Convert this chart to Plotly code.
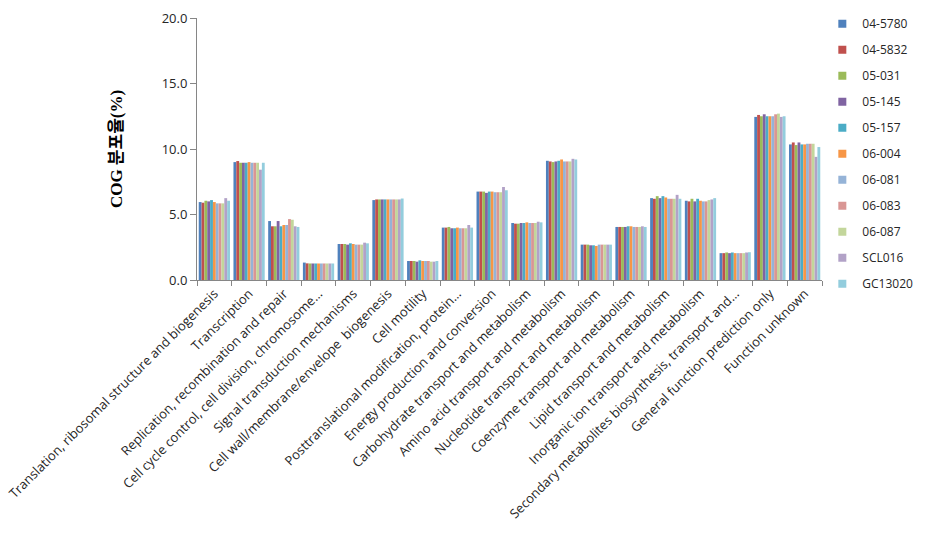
import plotly.graph_objects as go

categories = [
    "Translation, ribosomal structure and biogenesis",
    "Transcription",
    "Replication, recombination and repair",
    "Cell cycle control, cell division, chromosome…",
    "Signal transduction mechanisms",
    "Cell wall/membrane/envelope  biogenesis",
    "Cell motility",
    "Posttranslational modification, protein…",
    "Energy production and conversion",
    "Carbohydrate transport and metabolism",
    "Amino acid transport and metabolism",
    "Nucleotide transport and metabolism",
    "Coenzyme transport and metabolism",
    "Lipid transport and metabolism",
    "Inorganic ion transport and metabolism",
    "Secondary metabolites biosynthesis, transport and…",
    "General function prediction only",
    "Function unknown",
]

strains = ["04-5780", "04-5832", "05-031", "05-145", "05-157", "06-004",
           "06-081", "06-083", "06-087", "SCL016", "GC13020"]

colors = ["#4F81BD", "#C0504D", "#9BBB59", "#8064A2", "#4BACC6", "#F79646",
          "#95B3D7", "#D99694", "#C3D69B", "#B2A2C7", "#93CDDD"]

# values per category (rows) for each strain (columns)
v_translation   = [5.95, 5.90, 6.05, 6.00, 6.10, 5.95, 5.85, 5.85, 5.85, 6.25, 6.05]
v_transcription = [9.00, 9.08, 8.95, 8.95, 8.95, 9.00, 8.95, 8.95, 8.95, 8.42, 8.95]
v_replication   = [4.50, 4.10, 4.10, 4.50, 4.10, 4.20, 4.20, 4.65, 4.60, 4.10, 4.05]
v_cellcycle     = [1.33, 1.27, 1.26, 1.26, 1.26, 1.26, 1.26, 1.26, 1.26, 1.26, 1.26]
v_signal        = [2.75, 2.75, 2.75, 2.70, 2.80, 2.75, 2.70, 2.70, 2.70, 2.85, 2.80]
v_cellwall      = [6.10, 6.15, 6.15, 6.15, 6.15, 6.15, 6.15, 6.15, 6.15, 6.15, 6.22]
v_motility      = [1.45, 1.45, 1.45, 1.40, 1.50, 1.45, 1.45, 1.45, 1.40, 1.40, 1.45]
v_posttrans     = [4.00, 4.00, 4.05, 3.95, 3.95, 4.00, 3.95, 3.95, 3.95, 4.20, 4.00]
v_energy        = [6.75, 6.75, 6.75, 6.65, 6.75, 6.75, 6.70, 6.70, 6.70, 7.10, 6.85]
v_carbo         = [4.35, 4.30, 4.30, 4.35, 4.35, 4.40, 4.35, 4.35, 4.35, 4.45, 4.40]
v_amino         = [9.10, 9.05, 9.00, 9.05, 9.10, 9.20, 9.05, 9.05, 9.05, 9.25, 9.20]
v_nucleotide    = [2.70, 2.70, 2.70, 2.65, 2.65, 2.60, 2.70, 2.70, 2.70, 2.70, 2.70]
v_coenzyme      = [4.05, 4.05, 4.05, 4.05, 4.10, 4.10, 4.05, 4.05, 4.05, 4.10, 4.05]
v_lipid         = [6.25, 6.20, 6.40, 6.25, 6.40, 6.30, 6.20, 6.20, 6.20, 6.50, 6.20]
v_inorganic     = [6.05, 6.00, 6.20, 6.00, 6.20, 6.05, 6.00, 6.00, 6.10, 6.15, 6.25]
v_secondary     = [2.05, 2.05, 2.10, 2.05, 2.10, 2.05, 2.05, 2.05, 2.05, 2.10, 2.12]
v_general       = [12.45, 12.60, 12.50, 12.65, 12.50, 12.50, 12.50, 12.65, 12.70, 12.45, 12.50]
v_unknown       = [10.35, 10.50, 10.30, 10.50, 10.35, 10.35, 10.40, 10.40, 10.40, 9.40, 10.15]

rows = [v_translation, v_transcription, v_replication, v_cellcycle, v_signal,
        v_cellwall, v_motility, v_posttrans, v_energy, v_carbo, v_amino,
        v_nucleotide, v_coenzyme, v_lipid, v_inorganic, v_secondary,
        v_general, v_unknown]

y_ticks = [0, 5, 10, 15, 20]

fig = go.Figure()
for j, (name, col) in enumerate(zip(strains, colors)):
    fig.add_trace(go.Bar(
        x=categories, y=[r[j] for r in rows], name=name,
        marker=dict(color=col, line=dict(width=0)),
        showlegend=False, legendgroup=name,
    ))
for name, col in zip(strains, colors):
    fig.add_trace(go.Scatter(
        x=[None], y=[None], mode="markers", name=name, legendgroup=name,
        marker=dict(symbol="square", size=8, color=col),
    ))

axis_col = "#868686"
fig.update_layout(
    width=925, height=543,
    margin=dict(l=197, r=103, t=18, b=263, autoexpand=False),
    paper_bgcolor="white", plot_bgcolor="white",
    barmode="group", bargap=0.1, bargroupgap=0,
    font=dict(family="Open Sans, Noto Sans CJK KR", size=12, color="#262626"),
    legend=dict(xref="container", yref="container",
                x=0.889, xanchor="left", y=0.983, yanchor="top",
                maxheight=540,
                tracegroupgap=7, font=dict(size=12, color="#262626"),
                bgcolor="rgba(0,0,0,0)"),
    xaxis=dict(
        type="category", tickangle=-45, showline=True, linecolor=axis_col,
        ticks="outside", tickson="boundaries", ticklen=5, tickcolor=axis_col,
        showgrid=False, tickfont=dict(size=13, color="#262626"),
        automargin=False,
    ),
    yaxis=dict(
        range=[0, 20], tickvals=y_ticks, tickformat=".1f",
        showline=True, linecolor=axis_col, ticks="outside", ticklen=6,
        tickcolor=axis_col, showgrid=False, zeroline=False,
        tickfont=dict(size=13, color="#262626"), automargin=False,
        title=dict(text="<b>COG 분포율(%)</b>", standoff=34,
                   font=dict(family="Liberation Serif, Noto Sans CJK KR",
                             size=17, color="#000000")),
    ),
)

fig.write_html("out.html")
